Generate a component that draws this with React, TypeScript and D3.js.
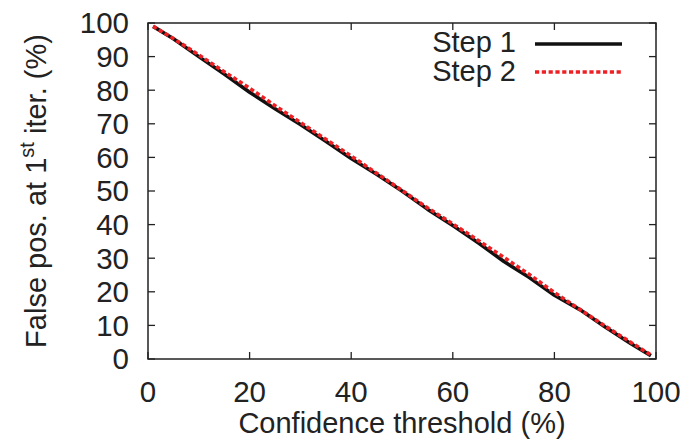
import React from "react";
import * as d3 from "d3";

const xTicks = [0, 20, 40, 60, 80, 100];
const yTicks = [0, 10, 20, 30, 40, 50, 60, 70, 80, 90, 100];

const step1X = [1, 5, 10, 15, 20, 25, 30, 35, 40, 45, 50, 55, 60, 65, 70, 75, 80, 85, 90, 95, 99];
const step1Y = [99, 95.3, 90, 84.8, 79.4, 74.5, 69.8, 64.8, 59.7, 55, 50, 44.6, 39.7, 34.6, 29.1, 24.3, 19, 14.7, 9.5, 4.6, 1];
const step2X = [1, 5, 10, 15, 20, 25, 30, 35, 40, 45, 50, 55, 60, 65, 70, 75, 80, 85, 90, 95, 99];
const step2Y = [99, 95.4, 90.5, 85.5, 80.6, 75.4, 70.4, 65.4, 60.4, 55.3, 50.2, 45, 40.2, 35.3, 30.3, 25.2, 19.8, 14.8, 9.8, 5, 1.2];

const seriesNames = ["Step 1", "Step 2"];

const W = 686;
const H = 448;
const left = 148;
const right = 656;
const top = 23;
const bottom = 359;
const FONT = "'Liberation Sans', Arial, Helvetica, sans-serif";
const FS = 29;
const TFS = 29.5;

export default function App() {
  const x = d3.scaleLinear().domain([0, 100]).range([left, right]);
  const y = d3.scaleLinear().domain([0, 100]).range([bottom, top]);
  const line = d3
    .line<[number, number]>()
    .x((d) => x(d[0]))
    .y((d) => y(d[1]));
  const s1 = step1X.map((v, i) => [v, step1Y[i]] as [number, number]);
  const s2 = step2X.map((v, i) => [v, step2Y[i]] as [number, number]);
  const tl = 7;
  const axisColor = "#222";
  return (
    <svg
      width={W}
      height={H}
      style={{ position: "absolute", left: 0, top: 0, background: "#fff" }}
      fontFamily={FONT}
    >
      <rect x={0} y={0} width={W} height={H} fill="#fff" />
      {xTicks.map((t) => (
        <g key={"x" + t}>
          <line x1={x(t)} x2={x(t)} y1={bottom} y2={bottom - tl} stroke={axisColor} strokeWidth={1.3} />
          <line x1={x(t)} x2={x(t)} y1={top} y2={top + tl} stroke={axisColor} strokeWidth={1.3} />
          <text x={x(t)} y={402} textAnchor="middle" fontSize={TFS} fill="#222">
            {t}
          </text>
        </g>
      ))}
      {yTicks.map((t) => (
        <g key={"y" + t}>
          <line x1={left} x2={left + tl} y1={y(t)} y2={y(t)} stroke={axisColor} strokeWidth={1.3} />
          <line x1={right} x2={right - tl} y1={y(t)} y2={y(t)} stroke={axisColor} strokeWidth={1.3} />
          <text x={129} y={y(t)} dy="0.35em" textAnchor="end" fontSize={TFS} fill="#222">
            {t}
          </text>
        </g>
      ))}
      <path d={line(s1) || ""} fill="none" stroke="#111" strokeWidth={3.6} strokeLinejoin="round" />
      <path d={line(s2) || ""} fill="none" stroke="#ee2024" strokeWidth={3.6} strokeDasharray="4.2,2.6" />
      <rect x={left} y={top} width={right - left} height={bottom - top} fill="none" stroke={axisColor} strokeWidth={1.5} />
      <text x={516} y={52} textAnchor="end" fontSize={FS} fill="#222">
        {seriesNames[0]}
      </text>
      <line x1={535} x2={622} y1={44} y2={44} stroke="#111" strokeWidth={3.6} />
      <text x={516} y={81} textAnchor="end" fontSize={FS} fill="#222">
        {seriesNames[1]}
      </text>
      <line x1={535} x2={622} y1={72} y2={72} stroke="#ee2024" strokeWidth={3.6} strokeDasharray="4.2,2.6" />
      <text x={(left + right) / 2} y={433} textAnchor="middle" fontSize={FS} fill="#222">
        Confidence threshold (%)
      </text>
      <text
        transform={`translate(46,${(top + bottom) / 2}) rotate(-90)`}
        textAnchor="middle"
        fontSize={FS}
        fill="#222"
      >
        False pos. at 1
        <tspan fontSize={20} dy={-12}>st</tspan>
        <tspan dy={12}> iter. (%)</tspan>
      </text>
    </svg>
  );
}
